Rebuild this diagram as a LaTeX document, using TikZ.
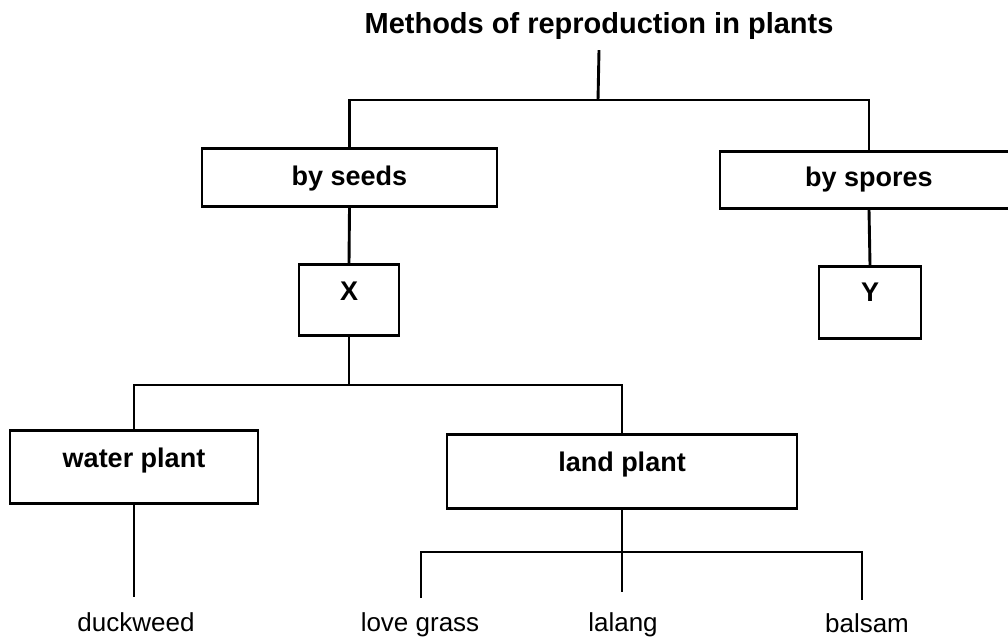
\documentclass[tikz,border=0pt]{standalone}
\usepackage{fontspec}
\setmainfont{Liberation Sans}
\begin{document}
\begin{tikzpicture}[x=1pt,y=-1pt,
  box/.style={draw, line width=2.9pt, inner sep=0pt, anchor=north,
    font=\fontsize{27}{30}\selectfont\bfseries},
  leaf/.style={inner sep=0pt, anchor=base, font=\fontsize{26}{30}\selectfont},
  conn/.style={line width=2.9pt}]
\useasboundingbox (0,0) rectangle (1008,640);
\clip (0,0) rectangle (1008,640);
\node[inner sep=0pt, anchor=base, font=\fontsize{29}{32}\selectfont\bfseries] (title) at (599,33) {Methods of reproduction in plants};
\node[box, minimum width=295pt, text height=37pt, text depth=21pt] (seeds) at (349.5,147) {by seeds};
\node[box, minimum width=298pt, text height=35pt, text depth=22pt] (spores) at (869,150) {by spores};
\node[box, minimum width=100pt, text height=36pt, text depth=35pt] (X) at (349,263) {X};
\node[box, minimum width=102pt, text height=35pt, text depth=37pt] (Y) at (870,265) {Y};
\node[box, minimum width=248pt, text height=37pt, text depth=36pt] (water) at (134,429) {water plant};
\node[box, minimum width=350pt, text height=37pt, text depth=37pt] (land) at (622,433) {land plant};
\node[leaf] (duck) at (136,631) {duckweed};
\node[leaf] (love) at (420,631) {love grass};
\node[leaf] (lalang) at (623,631) {lalang};
\node[leaf] (balsam) at (867,632) {balsam};
\coordinate (j1) at (598,100);
\coordinate (j2) at (349,385);
\coordinate (j3) at (621,552);
\coordinate (e1) at (421,598);
\coordinate (e2) at (862,600);
\draw[conn] ([yshift=-11pt]title.south) -- (j1);
\draw[conn] (seeds.north) |- (j1) -| (spores.north);
\draw[conn] (seeds.south) -- (X.north);
\draw[conn] (spores.south) -- (Y.north);
\draw[conn] (X.south) -- (j2);
\draw[conn] (water.north) |- (j2) -| (land.north);
\draw[conn] (water.south) -- ([yshift=15pt]water.south |- duck.north);
\draw[conn] (land.south) -- ([yshift=20pt]land.south |- lalang.north);
\draw[conn] (e1) |- (j3) -| (e2);
\end{tikzpicture}
\end{document}
